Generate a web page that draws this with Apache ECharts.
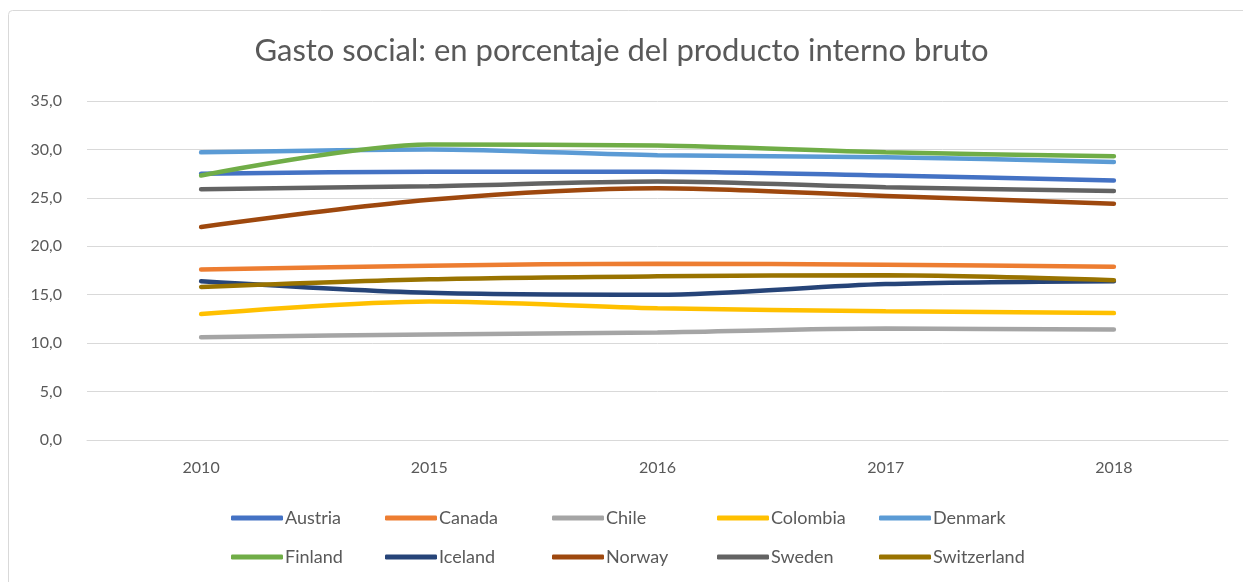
<!DOCTYPE html>
<html>
<head>
<meta charset="utf-8">
<script src="https://cdn.jsdelivr.net/npm/echarts@6/dist/echarts.min.js"></script>
<style>
  html, body { margin: 0; padding: 0; background: #fff; }
  #chart { width: 1243px; height: 582px; }
</style>
</head>
<body>
<div id="chart"></div>
<script>
const years = ["2010", "2015", "2016", "2017", "2018"];
const yTicks = [0, 5, 10, 15, 20, 25, 30, 35];

const austria = [27.5, 27.7, 27.7, 27.3, 26.8];
const canada = [17.6, 18.0, 18.2, 18.1, 17.9];
const chile = [10.6, 10.9, 11.1, 11.5, 11.4];
const colombia = [13.0, 14.3, 13.6, 13.3, 13.1];
const denmark = [29.7, 30.0, 29.4, 29.2, 28.7];
const finland = [27.3, 30.5, 30.4, 29.7, 29.3];
const iceland = [16.4, 15.2, 15.0, 16.1, 16.4];
const norway = [22.0, 24.8, 26.0, 25.2, 24.4];
const sweden = [25.9, 26.2, 26.7, 26.1, 25.7];
const switzerland = [15.8, 16.6, 16.9, 17.0, 16.5];

const seriesList = [
  { name: "Austria", data: austria, color: "#4472C4" },
  { name: "Canada", data: canada, color: "#ED7D31" },
  { name: "Chile", data: chile, color: "#A5A5A5" },
  { name: "Colombia", data: colombia, color: "#FFC000" },
  { name: "Denmark", data: denmark, color: "#5B9BD5" },
  { name: "Finland", data: finland, color: "#70AD47" },
  { name: "Iceland", data: iceland, color: "#264478" },
  { name: "Norway", data: norway, color: "#9E480E" },
  { name: "Sweden", data: sweden, color: "#636363" },
  { name: "Switzerland", data: switzerland, color: "#997300" }
];

const font = "Lato, 'Open Sans', sans-serif";
const legendLefts = [226, 380, 547, 712, 874];

// one legend per column so the two rows line up like in Excel
const legends = legendLefts.map((left, i) => ({
  orient: "vertical",
  left: left,
  top: 504,
  itemGap: 21,
  itemWidth: 52,
  itemHeight: 5,
  icon: "roundRect",
  textStyle: { fontFamily: font, fontSize: 18, color: "#595959", padding: [0, 0, 0, -3] },
  data: [seriesList[i].name, seriesList[i + 5].name]
}));

const chart = echarts.init(document.getElementById("chart"));
chart.setOption({
  animation: false,
  graphic: [{
    type: "rect",
    shape: { x: 8.5, y: 10.5, width: 1260, height: 600, r: 4 },
    style: { fill: "none", stroke: "#D9D9D9", lineWidth: 1 }
  }],
  title: {
    text: "Gasto social: en porcentaje del producto interno bruto",
    left: "center",
    top: 30,
    textStyle: { fontFamily: font, fontSize: 31, fontWeight: "normal", color: "#595959" }
  },
  legend: legends,
  grid: { left: 87, right: 15, top: 101, bottom: 142 },
  xAxis: {
    type: "category",
    data: years,
    boundaryGap: true,
    axisLine: { lineStyle: { color: "#D9D9D9", width: 1 } },
    axisTick: { show: false },
    axisLabel: { fontFamily: font, fontSize: 16, color: "#595959", margin: 20 }
  },
  yAxis: {
    type: "value",
    min: yTicks[0],
    max: yTicks[yTicks.length - 1],
    interval: 5,
    axisLine: { show: false },
    axisTick: { show: false },
    splitLine: { lineStyle: { color: "#D9D9D9", width: 1 } },
    axisLabel: {
      fontFamily: font, fontSize: 16, color: "#595959", margin: 25,
      formatter: v => v.toFixed(1).replace(".", ",")
    }
  },
  series: seriesList.map(s => ({
    name: s.name,
    type: "line",
    data: s.data,
    smooth: 0.3,
    symbol: "none",
    color: s.color,
    lineStyle: { width: 4.5, color: s.color, cap: "round" }
  }))
});
</script>
</body>
</html>
